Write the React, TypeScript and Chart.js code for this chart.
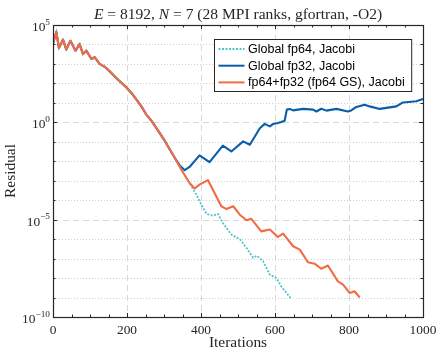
import React, { useEffect, useRef } from "react";
import { Chart, registerables } from "chart.js";

Chart.register(...registerables);

// ---- data (iteration, residual) ----
const sharedIter = [0, 9, 16, 27, 36, 47, 61, 72, 81, 90, 104, 113, 126, 140, 153, 171, 198, 216, 239, 252, 261, 270, 297, 329];
const sharedResidual = [1.1e4, 4.4e4, 6.6e3, 1.8e4, 5.4e3, 1.55e4, 4.8e3, 1.05e4, 3.2e3, 4.8e3, 1.8e3, 2.2e3, 1.0e3, 7.1e2, 4.2e2, 1.9e2, 63, 26, 6.6, 2.5, 1.6, 0.93, 0.16, 1.5e-2];

const fp64Iter = [347, 369, 374, 388, 401, 415, 432, 446, 459, 482, 505, 523, 541, 551, 568, 586, 604, 617, 642];
const fp64Residual = [3.7e-3, 7.6e-4, 5.1e-4, 1.9e-4, 5.9e-5, 2.0e-5, 1.6e-5, 1.95e-5, 6.8e-6, 1.7e-6, 1.0e-6, 3.5e-7, 1.1e-7, 1.4e-7, 7.2e-8, 1.5e-8, 1.0e-8, 3.7e-9, 9.5e-10];

const fp32Iter = [342, 356, 369, 396, 423, 459, 482, 514, 532, 559, 572, 586, 595, 608, 617, 626, 632, 640, 649, 676, 703, 712, 725, 739, 766, 797, 806, 820, 842, 856, 883, 928, 946, 982, 1000];
const fp32Residual = [6.3e-3, 3.5e-3, 5.1e-3, 2.0e-2, 9.1e-3, 6.3e-2, 3.2e-2, 0.105, 7.1e-2, 0.5, 0.83, 0.62, 0.83, 0.93, 1.05, 1.2, 4.5, 4.9, 4.1, 4.9, 4.5, 3.6, 5.0, 4.0, 4.9, 3.6, 4.1, 6.2, 8.1, 6.6, 4.9, 6.6, 10.5, 12, 15.8];

const mixedIter = [347, 369, 383, 396, 419, 437, 455, 469, 487, 505, 523, 536, 563, 586, 608, 622, 649, 667, 689, 707, 725, 743, 770, 784, 802, 815, 829];
const mixedResidual = [3.7e-3, 7.6e-4, 4.0e-4, 6.3e-4, 1.07e-3, 2.3e-4, 4.9e-5, 3.5e-5, 4.9e-5, 1.8e-5, 9.3e-6, 1.1e-5, 2.5e-6, 3.1e-6, 1.3e-6, 1.9e-6, 4.3e-7, 2.9e-7, 6.5e-8, 5.5e-8, 3.0e-8, 4.4e-8, 6.8e-9, 4.6e-9, 1.7e-9, 2.1e-9, 1.0e-9];

const seriesLabels = ["Global fp64, Jacobi", "Global fp32, Jacobi", "fp64+fp32 (fp64 GS), Jacobi"];
const xTickValues = [0, 200, 400, 600, 800, 1000];
const xMinorStep = 50;
const yMajorExponents = [-10, -5, 0, 5];
const xTitle = "Iterations";
const yTitle = "Residual";
const titleParts: [string, boolean][] = [["E", true], [" = 8192, ", false], ["N", true], [" = 7 (28 MPI ranks, gfortran, -O2)", false]];

const COLORS = { fp64: "#4EC3CC", fp32: "#0A5EA8", mixed: "#F26B43" };
const SERIF = '"Liberation Serif", "Times New Roman", serif';
const SANS = '"Liberation Sans", Arial, sans-serif';
const INK = "#262626";

function toPoints(iters: number[], vals: number[]) {
  return iters.map((x, i) => ({ x, y: vals[i] }));
}

function stretchText(ctx: CanvasRenderingContext2D, text: string, x: number, y: number, font: string, sx: number, align: "left" | "center" | "right") {
  ctx.save();
  ctx.font = font;
  const w = ctx.measureText(text).width * sx;
  const x0 = align === "center" ? x - w / 2 : align === "right" ? x - w : x;
  ctx.translate(x0, y);
  ctx.scale(sx, 1);
  ctx.textAlign = "left";
  ctx.textBaseline = "alphabetic";
  ctx.fillText(text, 0, 0);
  ctx.restore();
  return w;
}

const overlayPlugin = {
  id: "overlay",
  beforeDraw(chart: any) {
    const { ctx, width, height } = chart;
    ctx.save();
    ctx.fillStyle = "#ffffff";
    ctx.fillRect(0, 0, width, height);
    ctx.restore();
  },
  beforeDatasetsDraw(chart: any) {
    const { ctx, chartArea, scales } = chart;
    const { left, right, top, bottom } = chartArea;
    const xs = scales.x, ys = scales.y;
    ctx.save();
    ctx.lineWidth = 1;
    const eMin = Math.round(Math.log10(ys.min)), eMax = Math.round(Math.log10(ys.max));
    for (let e = eMin + 1; e < eMax; e++) {
      const py = Math.round(ys.getPixelForValue(Math.pow(10, e))) + 0.5;
      const major = yMajorExponents.includes(e);
      ctx.strokeStyle = major ? "#d8d8d8" : "#cfcfcf";
      ctx.setLineDash(major ? [6, 4] : [1, 2]);
      ctx.beginPath();
      ctx.moveTo(left, py);
      ctx.lineTo(right, py);
      ctx.stroke();
    }
    for (const v of xTickValues) {
      if (v === xs.min || v === xs.max) continue;
      const px = Math.round(xs.getPixelForValue(v)) + 0.5;
      ctx.strokeStyle = "#d8d8d8";
      ctx.setLineDash([6, 4]);
      ctx.beginPath();
      ctx.moveTo(px, top);
      ctx.lineTo(px, bottom);
      ctx.stroke();
    }
    ctx.restore();
  },
  afterDatasetsDraw(chart: any) {
    const { ctx, chartArea, scales } = chart;
    const { left, right, top, bottom } = chartArea;
    const xs = scales.x, ys = scales.y;
    ctx.save();
    ctx.setLineDash([]);
    ctx.strokeStyle = INK;
    ctx.lineWidth = 1;
    // ticks
    ctx.beginPath();
    for (let v = xs.min; v <= xs.max; v += xMinorStep) {
      const px = Math.round(xs.getPixelForValue(v)) + 0.5;
      const len = xTickValues.includes(v) ? 4 : 2.5;
      ctx.moveTo(px, bottom); ctx.lineTo(px, bottom - len);
      ctx.moveTo(px, top); ctx.lineTo(px, top + len);
    }
    const eMin = Math.round(Math.log10(ys.min)), eMax = Math.round(Math.log10(ys.max));
    for (let e = eMin; e <= eMax; e++) {
      const py = Math.round(ys.getPixelForValue(Math.pow(10, e))) + 0.5;
      const len = yMajorExponents.includes(e) ? 4 : 2.5;
      ctx.moveTo(left, py); ctx.lineTo(left + len, py);
      ctx.moveTo(right, py); ctx.lineTo(right - len, py);
    }
    ctx.stroke();
    // frame
    ctx.lineWidth = 1.2;
    ctx.strokeRect(Math.round(left) + 0.5, Math.round(top) + 0.5, Math.round(right - left), Math.round(bottom - top));

    ctx.fillStyle = INK;
    // x tick labels
    for (const v of xTickValues) {
      const px = xs.getPixelForValue(v);
      stretchText(ctx, String(v), px, bottom + 17, `13px ${SERIF}`, 1.03, "center");
    }
    // y tick labels with superscripts
    for (const e of yMajorExponents) {
      const py = ys.getPixelForValue(Math.pow(10, e));
      const sup = String(e).replace("-", "\u2212");
      const supW = stretchText(ctx, sup, left - 3, py - 0.5, `9px ${SERIF}`, 1.03, "right");
      stretchText(ctx, "10", left - 3 - supW, py + 6, `13px ${SERIF}`, 1.03, "right");
    }
    // axis titles
    stretchText(ctx, xTitle, (left + right) / 2, bottom + 30, `14px ${SERIF}`, 1.1, "center");
    ctx.save();
    ctx.translate(15, (top + bottom) / 2);
    ctx.rotate(-Math.PI / 2);
    stretchText(ctx, yTitle, 0, 0, `14px ${SERIF}`, 1.1, "center");
    ctx.restore();
    // title
    const tFont = (it: boolean) => `${it ? "italic " : ""}14px ${SERIF}`;
    const tsx = 1.11;
    let total = 0;
    for (const [t, it] of titleParts) { ctx.font = tFont(it); total += ctx.measureText(t).width * tsx; }
    let tx = (left + right) / 2 - total / 2;
    for (const [t, it] of titleParts) { tx += stretchText(ctx, t, tx, top - 6, tFont(it), tsx, "left"); }

    // legend
    ctx.font = `12.5px ${SANS}`;
    const maxW = Math.max(...seriesLabels.map((s) => ctx.measureText(s).width));
    const sample = 26, pad = 4, gap = 3.5;
    const boxW = pad + sample + gap + maxW + 7;
    const rowH = 16.7;
    const boxH = 52;
    const bx = Math.round(right - 12 - boxW) + 0.5;
    const by = Math.round(top + 14) + 0.5;
    ctx.fillStyle = "#ffffff";
    ctx.fillRect(bx, by, boxW, boxH);
    ctx.strokeStyle = INK;
    ctx.lineWidth = 1;
    ctx.strokeRect(bx, by, boxW, boxH);
    const styles = [
      { c: COLORS.fp64, w: 2, d: [2, 1.5] },
      { c: COLORS.fp32, w: 2, d: [] },
      { c: COLORS.mixed, w: 2, d: [] },
    ];
    seriesLabels.forEach((s, i) => {
      const cy = by + 9.5 + i * rowH;
      ctx.strokeStyle = styles[i].c;
      ctx.lineWidth = styles[i].w;
      ctx.setLineDash(styles[i].d);
      ctx.beginPath();
      ctx.moveTo(bx + pad, cy);
      ctx.lineTo(bx + pad + sample, cy);
      ctx.stroke();
      ctx.setLineDash([]);
      ctx.fillStyle = "#000000";
      ctx.font = `12.5px ${SANS}`;
      ctx.textBaseline = "middle";
      ctx.textAlign = "left";
      ctx.fillText(s, bx + pad + sample + gap, cy + 0.5);
    });
    ctx.restore();
  },
};

export default function App() {
  const canvasRef = useRef<HTMLCanvasElement | null>(null);
  useEffect(() => {
    const canvas = canvasRef.current;
    if (!canvas) return;
    const fp64Data = toPoints(sharedIter.concat(fp64Iter), sharedResidual.concat(fp64Residual));
    const fp32Data = toPoints(sharedIter.concat(fp32Iter), sharedResidual.concat(fp32Residual));
    const mixedData = toPoints(sharedIter.concat(mixedIter), sharedResidual.concat(mixedResidual));
    const chart = new Chart(canvas, {
      type: "line",
      data: {
        datasets: [
          { label: seriesLabels[0], data: fp64Data, borderColor: COLORS.fp64, borderWidth: 1.8, borderDash: [2, 1.5], pointRadius: 0, tension: 0, order: 2 },
          { label: seriesLabels[1], data: fp32Data, borderColor: COLORS.fp32, borderWidth: 2.1, pointRadius: 0, tension: 0, order: 1, borderJoinStyle: "round" },
          { label: seriesLabels[2], data: mixedData, borderColor: COLORS.mixed, borderWidth: 2.1, pointRadius: 0, tension: 0, order: 0, borderJoinStyle: "round" },
        ],
      },
      options: {
        responsive: false,
        animation: false,
        devicePixelRatio: 1,
        layout: { padding: { left: 53, right: 13, top: 25, bottom: 33 } },
        scales: {
          x: { type: "linear", min: 0, max: 1000, display: false },
          y: { type: "logarithmic", min: 1e-10, max: 1e5, display: false },
        },
        plugins: { legend: { display: false }, tooltip: { enabled: false }, title: { display: false } },
      },
      plugins: [overlayPlugin],
    } as any);
    return () => chart.destroy();
  }, []);
  return (
    <div style={{ position: "fixed", left: 0, top: 0, width: 436, height: 350, background: "#fff" }}>
      <canvas ref={canvasRef} width={436} height={350} style={{ display: "block", width: 436, height: 350 }} />
    </div>
  );
}
